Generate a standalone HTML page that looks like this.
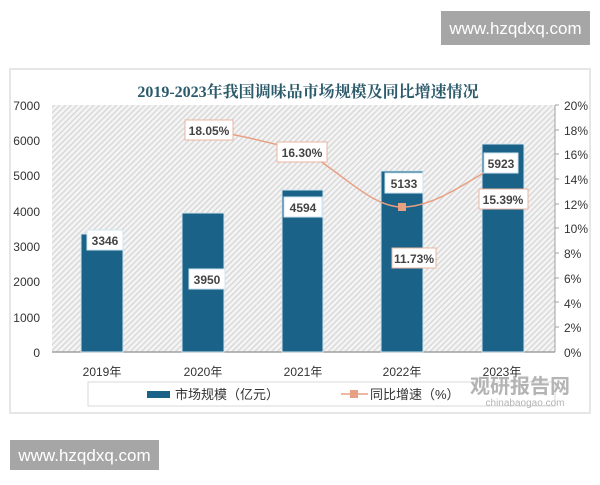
<!DOCTYPE html>
<html><head><meta charset="utf-8"><style>
body{margin:0;width:600px;height:480px;background:#fff;overflow:hidden;font-family:"Liberation Sans","Noto Sans CJK SC",sans-serif}
</style></head><body>
<svg width="600" height="480" viewBox="0 0 600 480" xmlns="http://www.w3.org/2000/svg" font-family="Liberation Sans, Noto Sans CJK SC, sans-serif">
<defs>
<pattern id="h" width="4" height="4" patternUnits="userSpaceOnUse" patternTransform="rotate(45)">
<rect width="4" height="4" fill="#f4f4f4"/><rect width="1.3" height="4" fill="#d6d6d6"/>
</pattern>
</defs>
<rect x="441" y="11" width="149" height="34" fill="#a6a6a6"/>
<text x="515.5" y="34" font-size="17" fill="#fff" text-anchor="middle">www.hzqdxq.com</text>
<rect x="10" y="69" width="580" height="344" fill="#fff" stroke="#e6e6e6" stroke-width="2"/>
<text x="308" y="97" font-size="16" font-weight="bold" fill="#2b5a6b" text-anchor="middle" font-family="Liberation Serif, Noto Serif CJK SC, serif">2019-2023年我国调味品市场规模及同比增速情况</text>
<rect x="52" y="105" width="503" height="247" fill="url(#h)"/>
<line x1="52" y1="352" x2="555" y2="352" stroke="#a0a0a0" stroke-width="1.5"/>
<line x1="555" y1="105" x2="555" y2="352" stroke="#a0a0a0"/>
<g font-size="12" fill="#333" text-anchor="end">
<text x="40" y="110">7000</text><text x="40" y="145">6000</text><text x="40" y="180">5000</text><text x="40" y="216">4000</text><text x="40" y="251">3000</text><text x="40" y="286">2000</text><text x="40" y="322">1000</text><text x="40" y="357">0</text>
</g>
<g font-size="12" fill="#333">
<text x="564" y="110">20%</text><text x="564" y="135">18%</text><text x="564" y="159">16%</text><text x="564" y="184">14%</text><text x="564" y="209">12%</text><text x="564" y="233">10%</text><text x="564" y="258">8%</text><text x="564" y="283">6%</text><text x="564" y="308">4%</text><text x="564" y="332">2%</text><text x="564" y="357">0%</text>
</g>
<g stroke="#a0a0a0"><line x1="555" y1="105" x2="559" y2="105"/><line x1="555" y1="130" x2="559" y2="130"/><line x1="555" y1="154" x2="559" y2="154"/><line x1="555" y1="179" x2="559" y2="179"/><line x1="555" y1="204" x2="559" y2="204"/><line x1="555" y1="228" x2="559" y2="228"/><line x1="555" y1="253" x2="559" y2="253"/><line x1="555" y1="278" x2="559" y2="278"/><line x1="555" y1="302" x2="559" y2="302"/><line x1="555" y1="327" x2="559" y2="327"/></g>
<g fill="#1b6288" stroke="#cfe6f0" stroke-width="1">
<rect x="81" y="234" width="42" height="118"/>
<rect x="182" y="213" width="42" height="139"/>
<rect x="282" y="190" width="41" height="162"/>
<rect x="381" y="171" width="42" height="181"/>
<rect x="482" y="144" width="42" height="208"/>
</g>
<path d="M203,129 C240,135 270,143 303,151 C340,170 370,207 402,207 C435,207 470,180 502,162" fill="none" stroke="#e8a083" stroke-width="1.5"/>
<rect x="398" y="203" width="8" height="8" fill="#e8a083"/>
<g font-size="12" font-weight="bold" fill="#444" text-anchor="middle">
<rect x="87" y="230" width="36" height="20" fill="#fff" stroke="#cfe6f0"/><text x="105" y="245">3346</text>
<rect x="189" y="269" width="36" height="20" fill="#fff" stroke="#cfe6f0"/><text x="207" y="284">3950</text>
<rect x="284" y="197" width="38" height="20" fill="#fff" stroke="#cfe6f0"/><text x="303" y="212">4594</text>
<rect x="385" y="173" width="38" height="20" fill="#fff" stroke="#cfe6f0"/><text x="404" y="188">5133</text>
<rect x="484" y="153" width="34" height="20" fill="#fff" stroke="#cfe6f0"/><text x="501" y="168">5923</text>
<rect x="185" y="120" width="48" height="20" fill="#fff" stroke="#e8b5a0"/><text x="209" y="135">18.05%</text>
<rect x="277" y="142" width="50" height="20" fill="#fff" stroke="#e8b5a0"/><text x="302" y="157">16.30%</text>
<rect x="392" y="248" width="44" height="20" fill="#fff" stroke="#e8b5a0"/><text x="414" y="263">11.73%</text>
<rect x="479" y="189" width="49" height="20" fill="#fff" stroke="#e8b5a0"/><text x="503" y="204">15.39%</text>
</g>
<g font-size="12" fill="#333" text-anchor="middle">
<text x="102" y="376">2019年</text><text x="203" y="376">2020年</text><text x="303" y="376">2021年</text><text x="402" y="376">2022年</text><text x="502" y="376">2023年</text>
</g>
<rect x="88" y="382" width="467" height="24" fill="#fff" stroke="#d8d8d8"/>
<rect x="147" y="391" width="23" height="7" fill="#1b6288"/>
<text x="175" y="399" font-size="13" fill="#333">市场规模（亿元）</text>
<line x1="341" y1="394" x2="368" y2="394" stroke="#e8a083" stroke-width="1.5"/>
<rect x="350" y="390" width="8" height="8" fill="#e8a083"/>
<text x="370" y="399" font-size="13" fill="#333">同比增速（%）</text>
<text x="520" y="393" font-size="20" font-weight="bold" fill="#b4b4b4" text-anchor="middle">观研报告网</text>
<text x="525" y="406" font-size="10" fill="#b4b4b4" text-anchor="middle">chinabaogao.com</text>
<rect x="10" y="440" width="149" height="30" fill="#a6a6a6"/>
<text x="84.5" y="461" font-size="17" fill="#fff" text-anchor="middle">www.hzqdxq.com</text>
</svg>
</body></html>
